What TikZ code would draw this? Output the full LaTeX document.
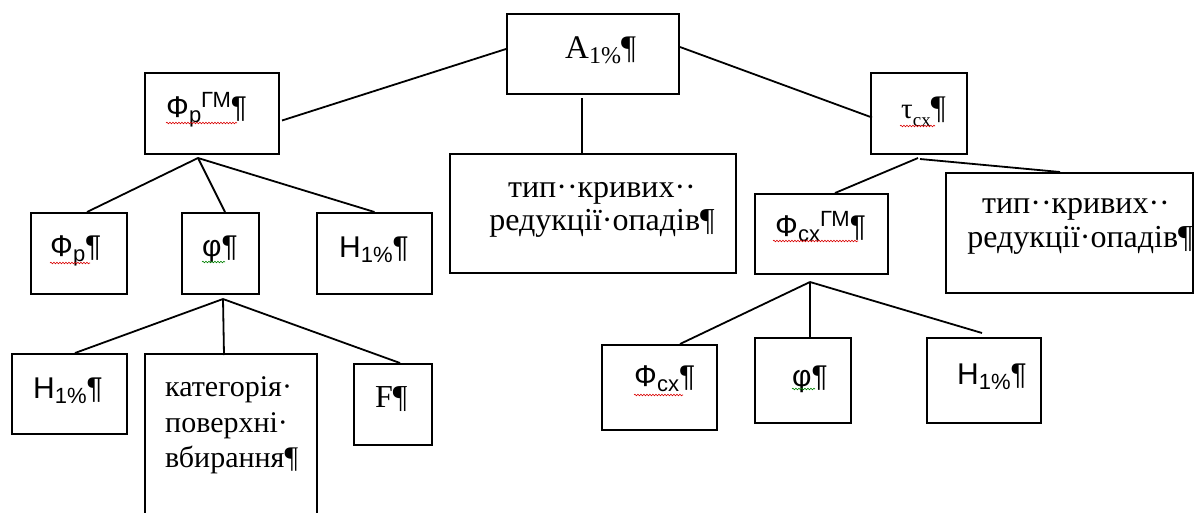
\documentclass[tikz,border=0pt]{standalone}
\usepackage{fontspec}
\setmainfont{Liberation Serif}
\newfontfamily\arial{Liberation Sans}
\usetikzlibrary{calc,decorations.pathmorphing}
\newcommand\lo[3]{\raisebox{-#1pt}{\fontsize{#2}{#2}\selectfont #3}}
\newcommand\hi[3]{\raisebox{#1pt}{\fontsize{#2}{#2}\selectfont #3}}
\begin{document}
\begin{tikzpicture}[x=1pt,y=-1pt,
  box/.style={draw, line width=2pt, inner sep=0pt},
  conn/.style={line width=1.8pt},
  sans/.style={font=\arial\fontsize{30}{33}\selectfont, anchor=base west, inner sep=0pt},
  ser/.style={font=\fontsize{33}{35}\selectfont, anchor=base west, inner sep=0pt},
  big/.style={font=\fontsize{32}{33}\selectfont, anchor=base, inner sep=0pt},
  katf/.style={font=\fontsize{30}{33}\selectfont, anchor=base west, inner sep=0pt},
  wavyr/.style={draw=red!85!black, line width=0.6pt, decorate, decoration={snake, amplitude=0.8pt, segment length=3pt}},
  wavyg/.style={draw=green!50!black, line width=0.6pt, decorate, decoration={snake, amplitude=0.8pt, segment length=3pt}}
]
\useasboundingbox (0,0) rectangle (1200,512);
% boxes
\node[box, minimum width=172, minimum height=80] (A) at (593,54) {};
\node[box, minimum width=134, minimum height=81] (FpGM) at (212,113.5) {};
\node[box, minimum width=96, minimum height=81] (tau) at (919,113.5) {};
\node[box, minimum width=286, minimum height=119] (tip1) at (593,213.5) {};
\node[box, minimum width=247, minimum height=120] (tip2) at (1069.5,233) {};
\node[box, minimum width=133, minimum height=80] (FcxGM) at (821.5,234) {};
\node[box, minimum width=96, minimum height=81] (Fp) at (79,253.5) {};
\node[box, minimum width=77, minimum height=81] (phi1) at (220.5,253.5) {};
\node[box, minimum width=115, minimum height=81] (H1) at (374.5,253.5) {};
\node[box, minimum width=115, minimum height=80] (H2) at (69.5,394) {};
\node[box, minimum width=172, minimum height=166] (kat) at (231,437) {};
\node[box, minimum width=78, minimum height=81] (F) at (393,404.5) {};
\node[box, minimum width=115, minimum height=85] (Fcx) at (659.5,387.5) {};
\node[box, minimum width=96, minimum height=85] (phi2) at (803,380.5) {};
\node[box, minimum width=114, minimum height=85] (H3) at (984,380.5) {};
% connectors
\draw[conn] ($(A.west)+(0,-5)$) -- ($(FpGM.east)+(2,7)$);
\draw[conn] ($(A.east)+(0,-7)$) -- ($(tau.west)+(2,4)$);
\draw[conn] ($(A.south)+(-11,3)$) -- ($(tip1.north)+(-11,0)$);
\draw[conn] ($(FpGM.south)+(-14,3)$) -- ($(Fp.north)+(8,0)$);
\draw[conn] ($(FpGM.south)+(-14,3)$) -- ($(phi1.north)+(4.5,0)$);
\draw[conn] ($(FpGM.south)+(-14,3)$) -- (H1.north);
\draw[conn] ($(phi1.south)+(2.5,4)$) -- ($(H2.north)+(5.5,0)$);
\draw[conn] ($(phi1.south)+(2.5,4)$) -- ($(kat.north)+(-7,2)$);
\draw[conn] ($(phi1.south)+(2.5,4)$) -- ($(F.north)+(7,0)$);
\draw[conn] ($(tau.south)+(-1,3)$) -- ($(FcxGM.north)+(13.5,0)$);
\draw[conn] ($(tau.south)+(1,4)$) -- ($(tip2.north)+(-9.5,0)$);
\draw[conn] ($(FcxGM.south)+(-11.5,7)$) -- ($(Fcx.north)+(20.5,0)$);
\draw[conn] ($(FcxGM.south)+(-11.5,7)$) -- ($(phi2.north)+(7,0)$);
\draw[conn] ($(FcxGM.south)+(-11.5,7)$) -- ($(H3.north)+(-2,-4)$);
% texts
\node[ser] (tA) at (565,58) {A\lo{5}{24}{1\%}¶};
\node[sans] (tFpGM) at (166,117) {Ф\lo{5}{22}{p}\hi{10}{22}{ГМ}¶};
\node[ser] (ttau) at (901,118) {{\fontsize{29}{29}\selectfont τ}\lo{8}{19}{cx}¶};
\node[big] (tip1a) at (602,197) {тип··кривих··};
\node[big] (tip1b) at (602,230) {редукції·опадів¶};
\node[big] (tip2a) at (1076,213) {тип··кривих··};
\node[big] (tip2b) at (1080,247) {редукції·опадів¶};
\node[sans] (tFcxGM) at (775,236) {Ф\lo{5}{22}{cx}\hi{10}{22}{ГМ}¶};
\node[sans] (tFp) at (50,256) {Ф\lo{5}{22}{p}¶};
\node[sans] (tphi1) at (202,256) {φ¶};
\node[sans] (tH1) at (339,257) {H\lo{5}{22}{1\%}¶};
\node[sans] (tH2) at (33,398) {H\lo{5}{22}{1\%}¶};
\node[katf] (tkat1) at (165,396) {категорія·};
\node[katf] (tkat2) at (165,432) {поверхні·};
\node[katf] (tkat3) at (165,467) {вбирання¶};
\node[ser, font=\fontsize{32}{33}\selectfont] (tF) at (375,407) {F¶};
\node[sans] (tFcx) at (634,386) {Ф\lo{5}{22}{cx}¶};
\node[sans] (tphi2) at (792,386) {φ¶};
\node[sans] (tH3) at (957,384) {H\lo{5}{22}{1\%}¶};
% spell-check underlines
\draw[wavyr] (166,123) -- (237,123);
\draw[wavyr] (50,263) -- (90,263);
\draw[wavyg] (202,262) -- (225,262);
\draw[wavyr] (900,126) -- (935,126);
\draw[wavyr] (773,241) -- (858,241);
\draw[wavyr] (634,395) -- (683,395);
\draw[wavyg] (792,389) -- (815,389);
\end{tikzpicture}
\end{document}
